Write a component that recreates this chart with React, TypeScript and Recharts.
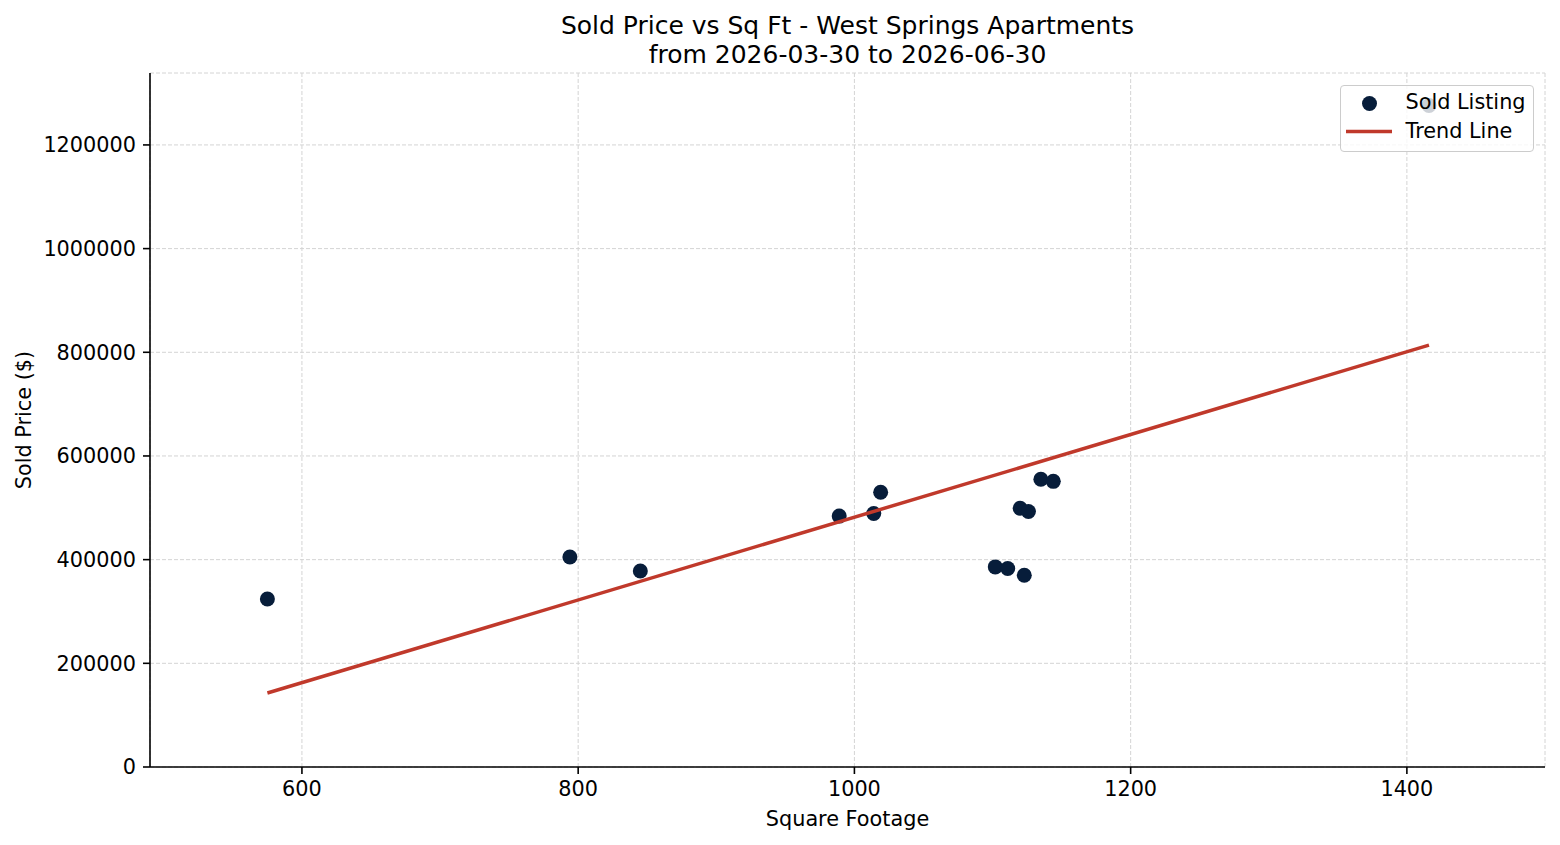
import React from "react";
import {
  ScatterChart,
  Scatter,
  XAxis,
  YAxis,
  CartesianGrid,
  Legend,
  Label
} from "recharts";

// sold listings: square footage and closing price
const sqft = [575, 794, 845, 989, 1014, 1019, 1120, 1126, 1135, 1144, 1102, 1111, 1123, 1416];
const soldPrice = [
  324000, 405000, 378000, 484000, 489000, 530000, 499000, 493000, 555000, 551000, 386000,
  383000, 370000, 1276000
];

// least-squares fit, evaluated at the smallest and largest unit
const trendSqft = [575, 1416];
const trendPrice = [142700, 813800];

const xTicks = [600, 800, 1000, 1200, 1400];
const yTicks = [0, 200000, 400000, 600000, 800000, 1000000, 1200000];

const seriesNames = ["Sold Listing", "Trend Line"];
const titleLines = ["Sold Price vs Sq Ft - West Springs Apartments", "from 2026-03-30 to 2026-06-30"];

const NAVY = "#071d3a";
const RED = "#c0392b";
const FONT = "'DejaVu Sans', sans-serif";
const FS = 20.8;

const listings = sqft.map((x, i) => ({ x, y: soldPrice[i] }));
const trend = trendSqft.map((x, i) => ({ x, y: trendPrice[i] }));

const Dot = (props: any) => <circle cx={props.cx} cy={props.cy} r={7.5} fill={NAVY} />;
const NoDot = () => <g />;

const renderLegend = () => (
  <div
    style={{
      width: 194,
      height: 67,
      boxSizing: "border-box",
      border: "1px solid #cccccc",
      borderRadius: 4,
      background: "rgba(255,255,255,0.8)"
    }}
  >
    <svg width={194} height={67} style={{ display: "block", position: "absolute", left: 0, top: 0 }}>
      <circle cx={29.5} cy={18.5} r={7.5} fill={NAVY} />
      <line x1={6} x2={52} y1={46.5} y2={46.5} stroke={RED} strokeWidth={3.5} />
      <text x={65.5} y={23.5} fontSize={FS} fontFamily={FONT} fill="#000">
        {seriesNames[0]}
      </text>
      <text x={65.5} y={52.5} fontSize={FS} fontFamily={FONT} fill="#000">
        {seriesNames[1]}
      </text>
    </svg>
  </div>
);

export default function App() {
  return (
    <div
      style={{
        position: "absolute",
        left: 0,
        top: 0,
        width: 1560,
        height: 845,
        background: "#ffffff",
        fontFamily: FONT
      }}
    >
      <div
        style={{
          position: "absolute",
          left: 150,
          top: 10.5,
          width: 1395,
          textAlign: "center",
          fontSize: 25,
          lineHeight: "29px",
          color: "#000",
          zIndex: 2
        }}
      >
        {titleLines.map((t) => (
          <div key={t}>{t}</div>
        ))}
      </div>
      <ScatterChart
        width={1560}
        height={845}
        margin={{ top: 73, right: 15, bottom: 0, left: 0 }}
        style={{ fontFamily: FONT }}
      >
        <CartesianGrid stroke="#d4d4d4" strokeDasharray="4 2" strokeWidth={1} />
        <XAxis
          type="number"
          dataKey="x"
          domain={[490, 1500]}
          ticks={xTicks}
          allowDataOverflow
          height={78}
          tickSize={7}
          tickMargin={7}
          axisLine={{ stroke: "#000", strokeWidth: 1.6 }}
          tickLine={{ stroke: "#000", strokeWidth: 1.6 }}
          tick={{ fill: "#000", fontSize: FS, fontFamily: FONT }}
        >
          <Label
            content={({ viewBox }: any) => (
              <text
                x={viewBox.x + viewBox.width / 2}
                y={826}
                textAnchor="middle"
                fontSize={FS}
                fontFamily={FONT}
                fill="#000"
              >
                Square Footage
              </text>
            )}
          />
        </XAxis>
        <YAxis
          type="number"
          dataKey="y"
          domain={[0, 1338750]}
          ticks={yTicks}
          allowDataOverflow
          width={150}
          tickSize={7}
          tickMargin={7}
          axisLine={{ stroke: "#000", strokeWidth: 1.6 }}
          tickLine={{ stroke: "#000", strokeWidth: 1.6 }}
          tick={{ fill: "#000", fontSize: FS, fontFamily: FONT }}
        >
          <Label
            content={({ viewBox }: any) => {
              const cy = viewBox.y + viewBox.height / 2;
              return (
                <text
                  x={24}
                  y={cy}
                  transform={`rotate(-90, 24, ${cy})`}
                  textAnchor="middle"
                  dominantBaseline="central"
                  fontSize={FS}
                  fontFamily={FONT}
                  fill="#000"
                >
                  Sold Price ($)
                </text>
              );
            }}
          />
        </YAxis>
        <Scatter
          name={seriesNames[0]}
          data={listings}
          shape={Dot}
          isAnimationActive={false}
        />
        <Scatter
          name={seriesNames[1]}
          data={trend}
          line={{ stroke: RED, strokeWidth: 3.5 }}
          shape={NoDot}
          legendType="none"
          isAnimationActive={false}
        />
        <Legend
          layout="horizontal"
          align="center"
          verticalAlign="middle"
          content={renderLegend}
          wrapperStyle={{ left: 1340, top: 85, width: 194, height: 67 }}
        />
      </ScatterChart>
    </div>
  );
}
